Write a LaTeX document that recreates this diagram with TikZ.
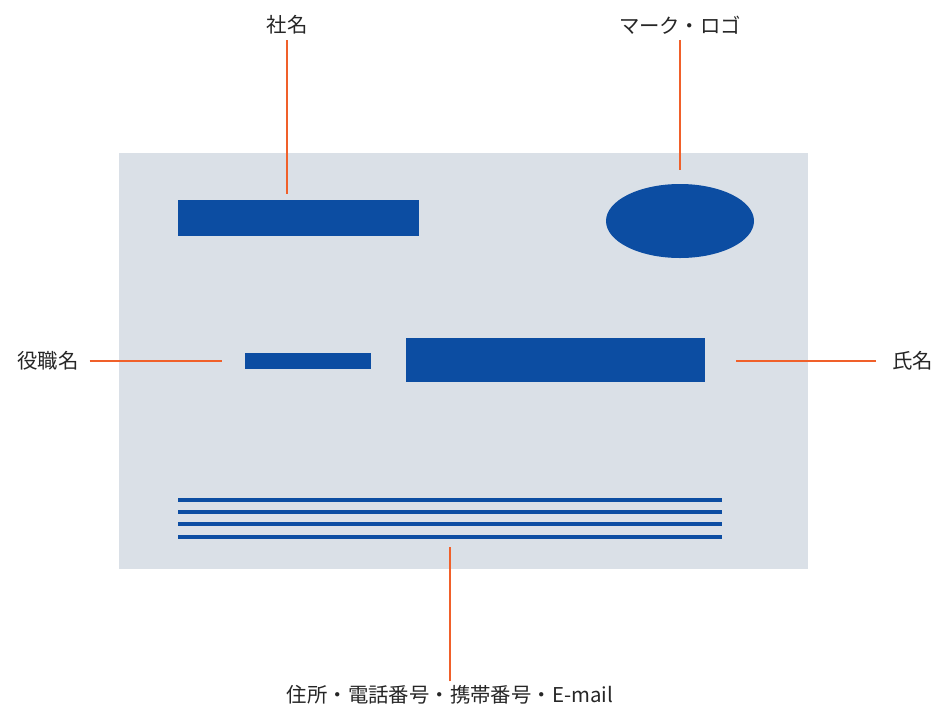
\documentclass[tikz,border=0pt]{standalone}
\usepackage{fontspec}
\setmainfont{Noto Sans CJK JP}
\usetikzlibrary{shapes.geometric}
\definecolor{cardbg}{HTML}{DAE0E7}
\definecolor{cardblue}{HTML}{0C4DA2}
\definecolor{leader}{HTML}{F0602A}
\tikzset{
  lbl/.style={font=\fontsize{15.3}{18}\selectfont, text=black!85, inner sep=0pt},
  lead/.style={draw=leader, line width=0.9pt},
  bar/.style={fill=cardblue, draw=none},
  addr/.style={draw=cardblue, line width=2.6pt}
}
\begin{document}
\begin{tikzpicture}[x=0.75pt, y=-0.75pt]
            \useasboundingbox (0,0) rectangle (936,708);
            % card
            \fill [cardbg] (119,153) rectangle (808,569);
            \fill [bar] (178,200) rectangle (419,236);
            \node [ellipse, bar, minimum width=111pt, minimum height=55.5pt, inner sep=0pt] (logo) at (680,221) {};
            \fill [bar] (245,353) rectangle (371,369);
            \fill [bar] (406,338) rectangle (705,382);
            \foreach \y in {500,512,524,537}
                \draw [addr] (178,\y) -- (722,\y);
            % labels
            \node [lbl] (shamei) at (287,25) {社名};
            \node [lbl] (mark) at (680,25) {マーク・ロゴ};
            \node [lbl, anchor=east] (yaku) at (79,361) {役職名};
            \node [lbl, anchor=west] (shimei) at (892,361) {氏名};
            \node [lbl] (jusho) at (450,695) {住所・電話番号・携帯番号・E-mail};
            % leader ends
            \coordinate (shameiEnd) at (287,194);
            \coordinate (markEnd) at (680,170);
            \coordinate (yakuEnd) at (222,361);
            \coordinate (shimeiEnd) at (736,361);
            \coordinate (jushoEnd) at (450,547);
            \draw [lead, shorten <=4pt] (shamei) -- (shameiEnd);
            \draw [lead, shorten <=4pt] (mark) -- (markEnd);
            \draw [lead, shorten <=8pt] (yaku) -- (yakuEnd);
            \draw [lead, shorten <=12pt] (shimei) -- (shimeiEnd);
            \draw [lead, shorten <=3pt] (jusho) -- (jushoEnd);
        \end{tikzpicture}
\end{document}
